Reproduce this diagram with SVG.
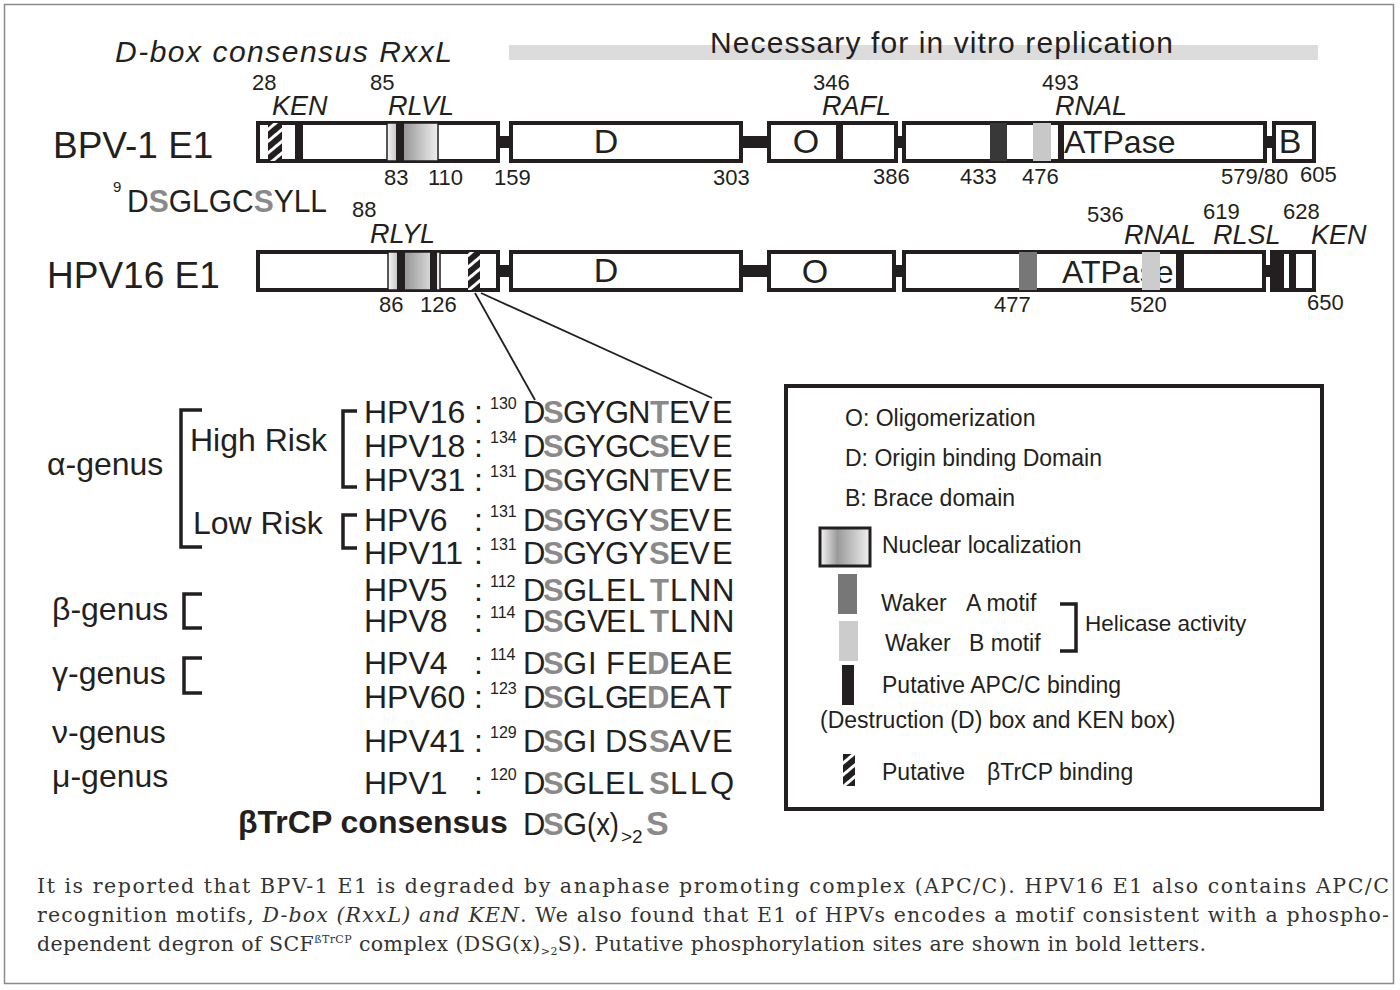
<svg xmlns="http://www.w3.org/2000/svg" width="1400" height="990" viewBox="0 0 1400 990">
<defs>
<style>
.s{font-family:"Liberation Sans",Arial,sans-serif;fill:#231f20}
.num{font-size:22px}
.lab{font-size:27px;font-style:italic}
.dom{font-size:34px}
.box{fill:#fff;stroke:#231f20;stroke-width:4}
.blk{fill:#231f20}
.g{fill:#8a8a8a;font-weight:bold}
.seq{font-size:32px}
.aa{font-size:31px}
.sup{font-size:16px}
.br{fill:none;stroke:#231f20;stroke-width:3.5}
.leg{font-size:23px}
.cap{font-family:"DejaVu Serif","Liberation Serif",serif;font-size:20.5px;fill:#333}
.ln{stroke:#231f20;stroke-width:1.8;fill:none}
</style>
<linearGradient id="nls" x1="0" x2="1" y1="0" y2="0">
<stop offset="0" stop-color="#f6f6f6"/><stop offset="0.35" stop-color="#9a9a9a"/><stop offset="1" stop-color="#f0f0f0"/>
</linearGradient>
<pattern id="hatch" patternUnits="userSpaceOnUse" width="9" height="9" patternTransform="rotate(-40)">
<rect width="9" height="9" fill="#231f20"/><rect width="9" height="3" fill="#fff"/>
</pattern>
</defs>
<rect x="0" y="0" width="1400" height="990" fill="#fff"/>
<rect x="4.5" y="4.5" width="1389" height="979" fill="none" stroke="#8a8a8a" stroke-width="1.5"/>

<g id="title">
<rect x="509" y="45" width="809" height="15" fill="#dcdcdc"/>
<text class="s" x="710" y="53" font-size="30" textLength="463">Necessary for in vitro replication</text>
<text class="s" x="115" y="62" font-size="30" font-style="italic" textLength="337">D-box consensus RxxL</text>
</g>

<g id="connectors">
<rect class="blk" x="497" y="136" width="15" height="12"/>
<rect class="blk" x="740" y="136" width="30" height="12"/>
<rect class="blk" x="895" y="136" width="10" height="12"/>
<rect class="blk" x="1264" y="136" width="11" height="12"/>
<rect class="blk" x="497" y="265" width="15" height="12"/>
<rect class="blk" x="740" y="265" width="30" height="12"/>
<rect class="blk" x="893" y="265" width="12" height="12"/>
<rect class="blk" x="1263" y="265" width="10" height="12"/>
<line class="ln" x1="475" y1="293" x2="535" y2="400"/>
<line class="ln" x1="481" y1="293" x2="712" y2="398"/>
</g>

<g id="bpv1-e1">
<text class="s" x="53" y="158" font-size="37">BPV-1 E1</text>
<g id="bpv-n">
<rect class="box" x="258" y="123" width="240" height="38"/>
<rect x="268" y="123" width="14" height="38" fill="url(#hatch)"/>
<rect class="blk" x="295" y="123" width="8" height="38"/>
<rect x="387" y="123" width="51" height="38" fill="url(#nls)" stroke="#231f20" stroke-width="1.5"/>
<rect class="blk" x="396" y="123" width="8" height="38"/>
</g>
<g id="bpv-d"><rect class="box" x="511" y="123" width="230" height="38"/><text class="s dom" x="606" y="153" text-anchor="middle">D</text></g>
<g id="bpv-o"><rect class="box" x="769" y="123" width="127" height="38"/><rect class="blk" x="836" y="123" width="7" height="38"/><text class="s dom" x="806" y="153" text-anchor="middle">O</text></g>
<g id="bpv-atpase"><rect class="box" x="904" y="123" width="361" height="38"/>
<rect x="990" y="123" width="17" height="38" fill="#383838"/>
<rect x="1033" y="123" width="18" height="38" fill="#c8c8c8"/>
<rect class="blk" x="1058" y="123" width="6" height="38"/>
<text class="s" x="1064" y="153" font-size="32">ATPase</text></g>
<g id="bpv-b"><rect class="box" x="1274" y="123" width="40" height="38"/><text class="s dom" x="1290" y="153" text-anchor="middle">B</text></g>
<g class="s num">
<text x="252" y="90">28</text><text x="370" y="90">85</text><text x="813" y="90">346</text><text x="1042" y="90">493</text>
<text x="384" y="185">83</text><text x="428" y="185">110</text><text x="494" y="185">159</text><text x="713" y="185">303</text>
<text x="873" y="184">386</text><text x="960" y="184">433</text><text x="1022" y="184">476</text>
<text x="1221" y="184">579/80</text><text x="1300" y="182">605</text>
</g>
<g class="s lab">
<text x="272" y="115">KEN</text><text x="388" y="115">RLVL</text><text x="822" y="115">RAFL</text><text x="1055" y="115">RNAL</text>
</g>
<text class="s" x="113" y="192" font-size="15">9</text>
<text class="s" x="127" y="212" font-size="32" textLength="200" lengthAdjust="spacingAndGlyphs">D<tspan class="g">S</tspan>GLGC<tspan class="g">S</tspan>YLL</text>
</g>

<g id="hpv16-e1">
<text class="s" x="47" y="288" font-size="37">HPV16 E1</text>
<g id="hpv-n">
<rect class="box" x="258" y="252" width="240" height="38"/>
<rect x="388" y="252" width="52" height="38" fill="url(#nls)" stroke="#231f20" stroke-width="1.5"/>
<rect class="blk" x="397" y="252" width="8" height="38"/>
<rect class="blk" x="430" y="252" width="7" height="38"/>
<rect x="468" y="252" width="12" height="38" fill="url(#hatch)"/>
</g>
<g id="hpv-d"><rect class="box" x="511" y="252" width="230" height="38"/><text class="s dom" x="606" y="282" text-anchor="middle">D</text></g>
<g id="hpv-o"><rect class="box" x="769" y="252" width="125" height="38"/><text class="s dom" x="815" y="283" text-anchor="middle">O</text></g>
<g id="hpv-atpase"><rect class="box" x="904" y="252" width="360" height="38"/>
<rect x="1019" y="252" width="18" height="38" fill="#777"/>
<text class="s" x="1062" y="283" font-size="32">ATPase</text>
<rect x="1142" y="252" width="18" height="38" fill="#cccccc"/>
<rect class="blk" x="1176" y="252" width="8" height="38"/></g>
<g id="hpv-c"><rect class="box" x="1272" y="252" width="42" height="38"/>
<rect class="blk" x="1272" y="252" width="12" height="38"/>
<rect class="blk" x="1289" y="252" width="7" height="38"/></g>
<g class="s num">
<text x="352" y="217">88</text><text x="1087" y="222">536</text><text x="1203" y="219">619</text><text x="1283" y="219">628</text>
<text x="379" y="312">86</text><text x="420" y="312">126</text><text x="994" y="312">477</text><text x="1130" y="312">520</text><text x="1307" y="310">650</text>
</g>
<g class="s lab">
<text x="370" y="243">RLYL</text><text x="1124" y="244">RNAL</text><text x="1213" y="244">RLSL</text><text x="1311" y="244">KEN</text>
</g>
</g>

<g id="sequences">
<g class="s" font-size="32">
<text x="47" y="475">α-genus</text>
<text x="190" y="451">High Risk</text>
<text x="193" y="534">Low Risk</text>
<text x="52" y="620">β-genus</text>
<text x="52" y="684">γ-genus</text>
<text x="52" y="743">ν-genus</text>
<text x="52" y="787">μ-genus</text>
<text x="238" y="833" font-weight="bold">βTrCP consensus</text>
</g>
<path class="br" d="M202,410 H181 V547 H202"/>
<path class="br" d="M357,411 H343 V487 H357"/>
<path class="br" d="M357,515 H343 V548 H357"/>
<path class="br" d="M202,594 H184 V628 H202"/>
<path class="br" d="M202,658 H184 V693 H202"/>
<g class="s seq">
<text x="364" y="423">HPV16</text><text x="364" y="457">HPV18</text><text x="364" y="491">HPV31</text>
<text x="364" y="531">HPV6</text><text x="364" y="564">HPV11</text><text x="364" y="601">HPV5</text>
<text x="364" y="632">HPV8</text><text x="364" y="674">HPV4</text><text x="364" y="708">HPV60</text>
<text x="364" y="752">HPV41</text><text x="364" y="794">HPV1</text>
<text x="474" y="423">:</text><text x="474" y="457">:</text><text x="474" y="491">:</text>
<text x="474" y="531">:</text><text x="474" y="564">:</text><text x="474" y="601">:</text>
<text x="474" y="632">:</text><text x="474" y="674">:</text><text x="474" y="708">:</text>
<text x="474" y="752">:</text><text x="474" y="794">:</text>
</g>
<g class="s sup">
<text x="490" y="409">130</text><text x="490" y="443">134</text><text x="490" y="477">131</text>
<text x="490" y="517">131</text><text x="490" y="550">131</text><text x="490" y="587">112</text>
<text x="490" y="618">114</text><text x="490" y="660">114</text><text x="490" y="694">123</text>
<text x="490" y="738">129</text><text x="490" y="780">120</text>
</g>
<g class="s aa">
<text y="423"><tspan x="523">D</tspan><tspan class="g" x="543">S</tspan><tspan x="563 585 605 628">GYGN</tspan><tspan class="g" x="650">T</tspan><tspan x="669 689 712">EVE</tspan></text>
<text y="457"><tspan x="523">D</tspan><tspan class="g" x="543">S</tspan><tspan x="563 585 605 628">GYGC</tspan><tspan class="g" x="649">S</tspan><tspan x="669 689 712">EVE</tspan></text>
<text y="491"><tspan x="523">D</tspan><tspan class="g" x="543">S</tspan><tspan x="563 585 605 628">GYGN</tspan><tspan class="g" x="650">T</tspan><tspan x="669 689 712">EVE</tspan></text>
<text y="531"><tspan x="523">D</tspan><tspan class="g" x="543">S</tspan><tspan x="563 585 605 628">GYGY</tspan><tspan class="g" x="649">S</tspan><tspan x="669 689 712">EVE</tspan></text>
<text y="564"><tspan x="523">D</tspan><tspan class="g" x="543">S</tspan><tspan x="563 585 605 628">GYGY</tspan><tspan class="g" x="649">S</tspan><tspan x="669 689 712">EVE</tspan></text>
<text y="601"><tspan x="523">D</tspan><tspan class="g" x="543">S</tspan><tspan x="563 587 606 628">GLEL</tspan><tspan class="g" x="650">T</tspan><tspan x="670 689 712">LNN</tspan></text>
<text y="632"><tspan x="523">D</tspan><tspan class="g" x="543">S</tspan><tspan x="563 587 606 628">GVEL</tspan><tspan class="g" x="650">T</tspan><tspan x="670 689 712">LNN</tspan></text>
<text y="674"><tspan x="523">D</tspan><tspan class="g" x="543">S</tspan><tspan x="563 588 606 627">GIFE</tspan><tspan class="g" x="647">D</tspan><tspan x="669 690 712">EAE</tspan></text>
<text y="708"><tspan x="523">D</tspan><tspan class="g" x="543">S</tspan><tspan x="563 587 605 627">GLGE</tspan><tspan class="g" x="647">D</tspan><tspan x="669 690 713">EAT</tspan></text>
<text y="752"><tspan x="523">D</tspan><tspan class="g" x="543">S</tspan><tspan x="563 588 605 627">GIDS</tspan><tspan class="g" x="649">S</tspan><tspan x="669 690 712">AVE</tspan></text>
<text y="794"><tspan x="523">D</tspan><tspan class="g" x="543">S</tspan><tspan x="563 587 605 627">GLEL</tspan><tspan class="g" x="649">S</tspan><tspan x="670 690 710">LLQ</tspan></text>
<text y="835"><tspan x="523">D</tspan><tspan class="g" x="543">S</tspan><tspan x="563">G</tspan><tspan x="587" textLength="32" lengthAdjust="spacingAndGlyphs">(x)</tspan></text>
<text x="621" y="843" font-size="19">&gt;2</text>
<text x="646" y="835" class="g" font-size="34">S</text>
</g>
</g>

<g id="legend">
<rect x="786" y="386" width="536" height="423" fill="none" stroke="#231f20" stroke-width="4"/>
<g class="s leg">
<text x="845" y="426">O: Oligomerization</text>
<text x="845" y="466">D: Origin binding Domain</text>
<text x="845" y="506">B: Brace domain</text>
<text x="882" y="553">Nuclear localization</text>
<text y="611"><tspan x="881">Waker</tspan><tspan x="966">A motif</tspan></text>
<text y="651"><tspan x="885">Waker</tspan><tspan x="969">B motif</tspan></text>
<text x="1085" y="631" font-size="22.5">Helicase activity</text>
<text x="882" y="693">Putative APC/C binding</text>
<text x="820" y="728">(Destruction (D) box and KEN box)</text>
<text y="780"><tspan x="882">Putative</tspan><tspan x="987">βTrCP binding</tspan></text>
</g>
<rect x="820" y="528" width="50" height="38" fill="url(#nls)" stroke="#231f20" stroke-width="3"/>
<rect x="838" y="574" width="19" height="40" fill="#777"/>
<rect x="839" y="621" width="19" height="40" fill="#cccccc"/>
<path class="br" d="M1060,604 H1076 V651 H1060" stroke-width="3"/>
<rect class="blk" x="842" y="665" width="12" height="40"/>
<rect x="843" y="754" width="12" height="32" fill="url(#hatch)"/>
</g>

<g id="caption">
<text class="cap" x="37" y="893" textLength="1352" lengthAdjust="spacing">It is reported that BPV-1 E1 is degraded by anaphase promoting complex (APC/C). HPV16 E1 also contains APC/C</text>
<text class="cap" x="37" y="922" textLength="1352" lengthAdjust="spacing">recognition motifs, <tspan font-style="italic">D-box (RxxL) and KEN</tspan>. We also found that E1 of HPVs encodes a motif consistent with a phospho-</text>
<text class="cap" x="37" y="951" textLength="1169" lengthAdjust="spacing">dependent degron of SCF<tspan font-size="11" dy="-8">ßTrCP</tspan><tspan dy="8"> complex (DSG(x)</tspan><tspan font-size="11" dy="4">&gt;2</tspan><tspan dy="-4">S). Putative phosphorylation sites are shown in bold letters.</tspan></text>
</g>
</svg>
